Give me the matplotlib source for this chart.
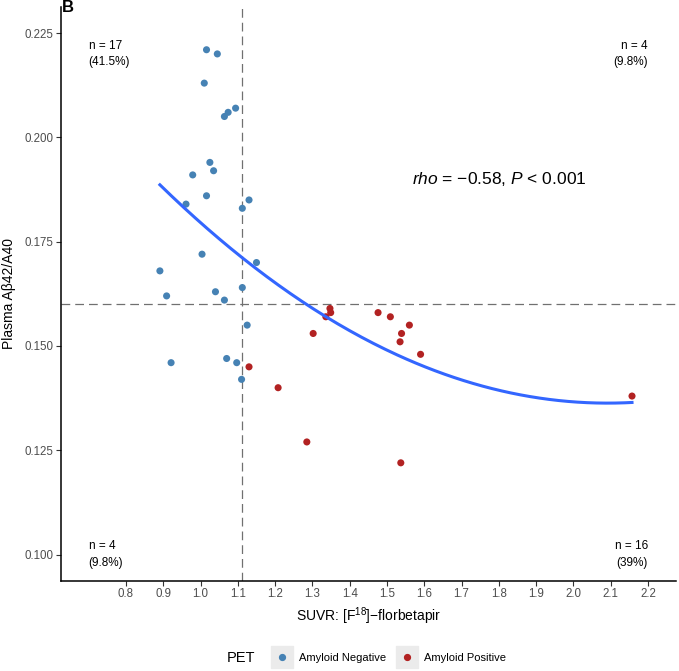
import numpy as np
import matplotlib
matplotlib.use("Agg")
import matplotlib.pyplot as plt
from matplotlib.lines import Line2D
from matplotlib.legend_handler import HandlerTuple

plt.rcParams['font.family'] = ['Liberation Sans', 'DejaVu Sans']
plt.rcParams['mathtext.fontset'] = 'custom'
plt.rcParams['mathtext.rm'] = 'Liberation Sans'
plt.rcParams['mathtext.it'] = 'Liberation Sans:italic'
plt.rcParams['mathtext.default'] = 'regular'

# ---- data ----
neg_suvr = [1.016, 1.045, 1.010, 1.064, 1.074, 1.094, 1.025, 1.035, 0.979, 1.016,
            1.130, 1.112, 0.961, 1.004, 1.150, 0.891, 1.112, 0.909, 1.040, 1.064,
            1.125, 0.921, 1.070, 1.097, 1.110]
neg_ratio = [0.221, 0.220, 0.213, 0.205, 0.206, 0.207, 0.194, 0.192, 0.191, 0.186,
             0.185, 0.183, 0.184, 0.172, 0.170, 0.168, 0.164, 0.162, 0.163, 0.161,
             0.155, 0.146, 0.147, 0.146, 0.142]
pos_suvr = [1.130, 1.208, 1.302, 1.285, 1.347, 1.349, 1.336, 1.476, 1.509, 1.560,
            1.539, 1.535, 1.590, 1.537, 2.157]
pos_ratio = [0.145, 0.140, 0.153, 0.127, 0.159, 0.158, 0.157, 0.158, 0.157, 0.155,
             0.153, 0.151, 0.148, 0.122, 0.138]

suvr_cut = 1.11
ratio_cut = 0.160
quad_labels = ["n = 17\n(41.5%)", "n = 4\n(9.8%)", "n = 4\n(9.8%)", "n = 16\n(39%)"]
stat_label = r"$\it{rho}$ = −0.58, $\it{P}$ < 0.001"
x_ticks = [0.8, 0.9, 1.0, 1.1, 1.2, 1.3, 1.4, 1.5, 1.6, 1.7, 1.8, 1.9, 2.0, 2.1, 2.2]
y_ticks = [0.100, 0.125, 0.150, 0.175, 0.200, 0.225]
groups = ["Amyloid Negative", "Amyloid Positive"]
colors = ["#4682B4", "#B22222"]

# ---- figure ----
fig = plt.figure(figsize=(6.79, 6.71), dpi=100)
ax = fig.add_axes([0.0894, 0.1346, 0.9062, 0.855])

ax.axvline(suvr_cut, color="#707070", lw=0.9, ls=(0, (7, 4)), zorder=1)
ax.axhline(ratio_cut, color="#707070", lw=0.9, ls=(0, (7, 4)), zorder=1)

ax.scatter(neg_suvr, neg_ratio, s=26, color=colors[0], edgecolors="none", zorder=3)
ax.scatter(pos_suvr, pos_ratio, s=26, color=colors[1], edgecolors="none", zorder=3)

# quadratic fit (geom_smooth, formula y ~ poly(x, 2))
all_x = np.array(neg_suvr + pos_suvr)
all_y = np.array(neg_ratio + pos_ratio)
coef = np.polyfit(all_x, all_y, 2)
xs = np.linspace(all_x.min(), all_x.max(), 200)
ax.plot(xs, np.polyval(coef, xs), color="#3366FF", lw=2.2, zorder=4)

tkw = dict(fontsize=8.5, color="black", va="center", linespacing=1.5)
ax.text(0.7, 0.220, quad_labels[0], ha="left", **tkw)
ax.text(2.2, 0.220, quad_labels[1], ha="right", **tkw)
ax.text(0.7, 0.100, quad_labels[2], ha="left", **tkw)
ax.text(2.2, 0.100, quad_labels[3], ha="right", **tkw)
ax.text(1.8, 0.190, stat_label, ha="center", va="center", fontsize=12.5, color="black")

ax.set_xlim(0.625, 2.275)
ax.set_ylim(0.09375, 0.23125)
ax.set_xticks(x_ticks)
ax.set_xticklabels([f"{v:.1f}" for v in x_ticks])
ax.set_yticks(y_ticks)
ax.set_yticklabels([f"{v:.3f}" for v in y_ticks])
ax.tick_params(axis="both", labelsize=8.3, labelcolor="#4D4D4D", color="#333333",
               length=3.5, width=0.8, pad=2)
for s in ["top", "right"]:
    ax.spines[s].set_visible(False)
for s in ["left", "bottom"]:
    ax.spines[s].set_linewidth(1.1)
    ax.spines[s].set_color("black")

ax.set_xlabel(r"SUVR: [F$^{18}$]−florbetapir", fontsize=10, labelpad=4)
ax.set_ylabel("Plasma Aβ42/A40", fontsize=10, labelpad=6)

fig.text(0.0913, 0.989, "B", fontsize=12, fontweight="bold", ha="left", va="center")

handles = [(Line2D([], [], marker="s", color="#EBEBEB", ls="none", markersize=16),
            Line2D([], [], marker="o", color=c, ls="none", markersize=4.2)) for c in colors]
fig.legend(handles, groups, loc="center", bbox_to_anchor=(0.572, 0.0194), ncol=2,
           frameon=False, fontsize=8, handlelength=2.0,
           handletextpad=0.6, columnspacing=0.8,
           handler_map={tuple: HandlerTuple(ndivide=1, pad=0)})
fig.text(0.376, 0.0194, "PET", fontsize=10.5, ha="right", va="center")

fig.savefig("out.png", dpi=100)
